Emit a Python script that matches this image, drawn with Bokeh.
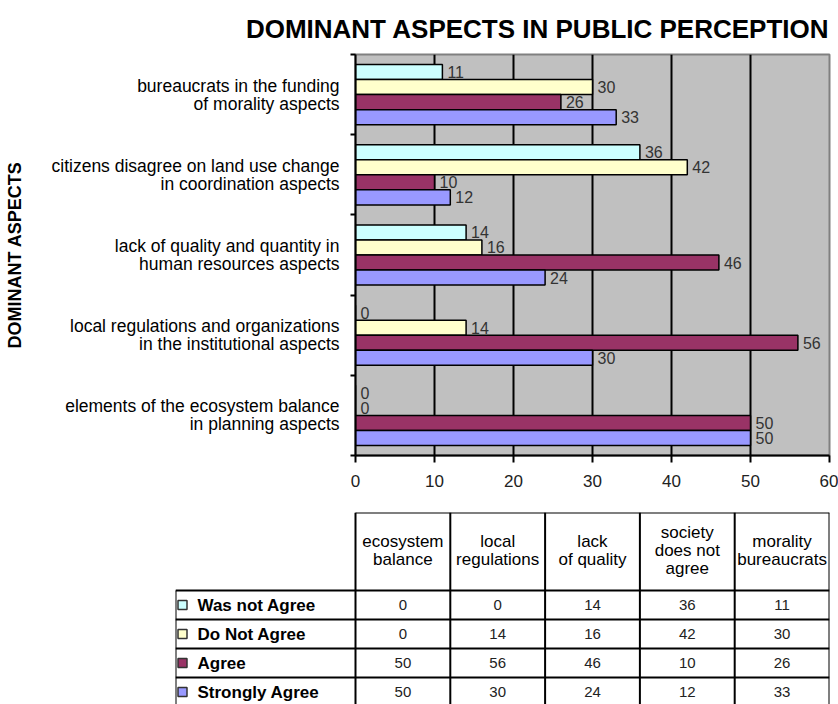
from bokeh.plotting import figure
from bokeh.models import (Range1d, LinearAxis, FixedTicker, ColumnDataSource)
from bokeh.core.properties import value
from bokeh.embed import file_html
from bokeh.resources import INLINE

FONT = "Liberation Sans"

# ---------------- data ----------------
aspect_labels = [
    "elements of the ecosystem balance\nin planning aspects",
    "local regulations and organizations\nin the institutional aspects",
    "lack of quality and quantity in\nhuman resources aspects",
    "citizens disagree on land use change\nin coordination aspects",
    "bureaucrats in the funding\nof morality aspects",
]
table_headers = ["ecosystem\nbalance", "local\nregulations", "lack\nof quality",
                 "society\ndoes not\nagree", "morality\nbureaucrats"]
series_names = ["Was not Agree", "Do Not Agree", "Agree", "Strongly Agree"]
was_not_agree = [0, 0, 14, 36, 11]
do_not_agree = [0, 14, 16, 42, 30]
agree = [50, 56, 46, 10, 26]
strongly_agree = [50, 30, 24, 12, 33]
series_values = [was_not_agree, do_not_agree, agree, strongly_agree]
series_colors = ["#CCFFFF", "#FFFFCC", "#993366", "#9999FF"]
x_ticks = [0, 10, 20, 30, 40, 50, 60]

# ---------------- layout constants ----------------
W = 838
CHART_H = 505
TABLE_H = 704 - CHART_H
FRAME_L, FRAME_R = 355, 829
ROWHDR_L = 175
n_cat = len(aspect_labels)
n_ser = len(series_names)
col_px = (FRAME_R - FRAME_L) / n_cat
cat_pos = [i + 0.5 for i in range(n_cat)]

# ---------------- chart ----------------
p = figure(width=W, height=CHART_H,
           y_range=Range1d(0, n_cat),
           x_range=Range1d(x_ticks[0], x_ticks[-1]),
           output_backend="svg", toolbar_location=None,
           y_axis_location=None,
           min_border_left=FRAME_L, min_border_right=W - FRAME_R,
           min_border_top=53, min_border_bottom=50,
           background_fill_color="#C0C0C0", border_fill_color="white",
           outline_line_color="#808080", outline_line_width=2)

p.title.text = "DOMINANT ASPECTS IN PUBLIC PERCEPTION"
p.title.align = "right"
p.title.text_font = FONT
p.title.text_font_size = "26px"
p.title.text_font_style = "bold"
p.title.text_color = "black"
p.title.standoff = 22

p.xaxis.ticker = FixedTicker(ticks=x_ticks)
p.xaxis.major_tick_out = 7
p.xaxis.major_tick_in = 0
p.xaxis.minor_tick_line_color = None
p.xaxis.axis_line_width = 2
p.xaxis.major_tick_line_width = 2
p.xaxis.major_label_text_font = FONT
p.xaxis.major_label_text_font_size = "17px"
p.xaxis.major_label_text_color = "#222222"
p.xaxis.major_label_standoff = 12

p.xgrid.ticker = FixedTicker(ticks=x_ticks)
p.xgrid.grid_line_color = "black"
p.xgrid.grid_line_width = 2
p.ygrid.grid_line_color = None

tick_axis = LinearAxis(ticker=FixedTicker(ticks=list(range(n_cat + 1))),
                       major_tick_out=5, major_tick_in=0,
                       minor_tick_line_color=None,
                       major_label_text_color=None,
                       major_label_text_font_size="1px", major_label_standoff=0,
                       axis_line_color="black", axis_line_width=2,
                       major_tick_line_width=2)
p.add_layout(tick_axis, "left")

cat_axis = LinearAxis(
    ticker=FixedTicker(ticks=cat_pos),
    major_label_overrides=dict(zip(cat_pos, aspect_labels)),
    axis_line_color=None, major_tick_line_color=None,
    minor_tick_line_color=None,
    major_label_text_font=FONT, major_label_text_font_size="17.5px",
    major_label_text_color="black", major_label_standoff=5,
    major_label_text_line_height=0.9,
    axis_label="DOMINANT ASPECTS", axis_label_text_font=FONT,
    axis_label_text_font_size="18px", axis_label_text_font_style="bold",
    axis_label_text_color="black", axis_label_standoff=24)
p.add_layout(cat_axis, "left")

bar_h = 0.75 / n_ser
for i in range(n_ser):
    off = ((n_ser - 1) / 2 - i) * bar_h
    src = ColumnDataSource(dict(
        y=[c + off for c in cat_pos],
        v=series_values[i],
        t=[str(v) for v in series_values[i]],
    ))
    p.hbar(y="y", left=0, right="v", height=bar_h,
           fill_color=series_colors[i], line_color="black",
           line_width=1.5, source=src)
    p.text(x="v", y="y", text="t", x_offset=5, text_baseline="middle",
           text_align="left", text_font=value(FONT), text_font_size="16px",
           text_color="#333333", source=src)

# ---------------- table ----------------
label_units = (FRAME_L - ROWHDR_L) / col_px
row_px = 29
hdr_h = 78 / row_px
visible_rows = (TABLE_H - 7) / row_px
t = figure(width=W, height=TABLE_H,
           x_range=Range1d(-label_units, n_cat),
           y_range=Range1d(visible_rows, 0),
           output_backend="svg", toolbar_location=None,
           x_axis_location=None, y_axis_location=None,
           min_border_left=ROWHDR_L, min_border_right=W - FRAME_R,
           min_border_top=7, min_border_bottom=0,
           outline_line_color=None, background_fill_color="white",
           border_fill_color="white")
t.grid.visible = False

bottom = hdr_h + n_ser + 0.2
t.segment(x0=[0], y0=[0], x1=[n_cat], y1=[0], line_color="black", line_width=2)
t.segment(x0=list(range(n_cat + 1)), y0=[0] * (n_cat + 1),
          x1=list(range(n_cat + 1)), y1=[bottom] * (n_cat + 1),
          line_color="black", line_width=2)
t.segment(x0=[-label_units], y0=[hdr_h], x1=[-label_units], y1=[bottom],
          line_color="black", line_width=2)
row_lines = [hdr_h + r for r in range(n_ser)]
t.segment(x0=[-label_units] * n_ser, y0=row_lines, x1=[n_cat] * n_ser,
          y1=row_lines, line_color="black", line_width=2)

t.text(x=[i + 0.5 for i in range(n_cat)], y=[hdr_h / 2 - 0.05] * n_cat,
       text=table_headers, text_align="center", text_baseline="middle",
       text_font=value(FONT), text_font_size="17px", text_color="black",
       text_line_height=0.95)

row_y = [hdr_h + r + 0.5 for r in range(n_ser)]
icon_x = -label_units + 7 / col_px
t.scatter(x=[icon_x] * n_ser, y=row_y, marker="square", size=9,
          fill_color=series_colors, line_color="#333333", line_width=1.5)
t.text(x=[-label_units] * n_ser, y=row_y, text=series_names, x_offset=22,
       text_align="left", text_baseline="middle", text_font=value(FONT),
       text_font_size="17px", text_font_style="bold", text_color="black")

for r in range(n_ser):
    t.text(x=[i + 0.5 for i in range(n_cat)], y=[row_y[r]] * n_cat,
           text=[str(v) for v in series_values[r]], text_align="center",
           text_baseline="middle", text_font=value(FONT),
           text_font_size="15px", text_color="#222222")

open("out.html", "w").write(file_html([p, t], INLINE))
